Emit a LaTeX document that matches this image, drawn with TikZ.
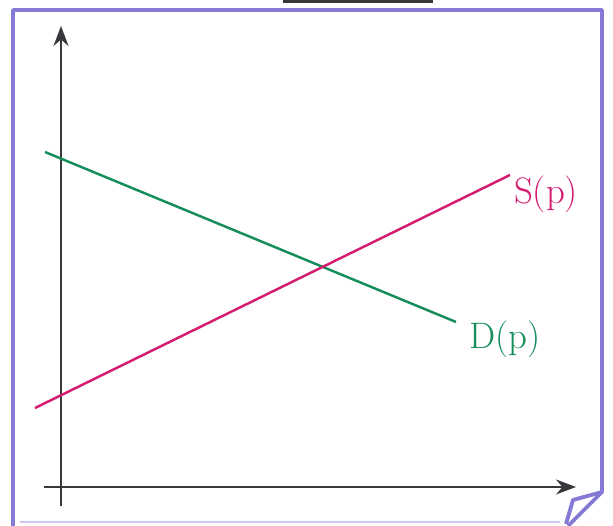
\documentclass[tikz,border=0pt]{standalone}
\usepackage{tikz}
\usetikzlibrary{positioning,arrows.meta,calc}
\definecolor{framelav}{RGB}{132,122,214}
\definecolor{supplymag}{RGB}{212,28,112}
\definecolor{demandgrn}{RGB}{22,142,92}
\definecolor{axisgray}{RGB}{55,55,60}

\begin{document}
\begin{tikzpicture}[
    x=0.02cm, y=-0.02cm,
    sheet/.style={draw=framelav, line width=2.2pt, line join=round},
    ax/.style={draw=axisgray, line width=1.1pt, -{Stealth[length=4mm, width=3mm]}},
    curve/.style={line width=1.4pt},
    lbl/.style={font=\fontsize{21}{24}\selectfont, inner sep=1pt}
]
\useasboundingbox (0,0) rectangle (613,526);
\fill[white] (0,0) rectangle (613,526);
% tab at the top
\fill[axisgray] (283,0) rectangle (433,3);
% paper with folded corner
\draw[sheet] (13,526) -- (13,10) -- (602,10) -- (602,492) -- (568,526);
\draw[sheet] (602,492) -- (573,500) -- (566,524);
\draw[framelav!40, line width=0.6pt] (20,522) -- (560,522);
% axes
\coordinate (o) at (61,487);
\coordinate (ybot) at (61,506);
\coordinate (ytop) at (61,26);
\coordinate (xleft) at (44,487);
\coordinate (xright) at (576,487);
\draw[ax] (ybot) -- (ytop);
\draw[ax] (xleft) -- (xright);
% demand and supply
\coordinate (d0) at (45,152);
\coordinate (d1) at (456,322);
\coordinate (s0) at (35,408);
\coordinate (s1) at (510,175);
\draw[curve, demandgrn] (d0) -- (d1);
\draw[curve, supplymag] (s0) -- (s1);
\node[lbl, text=supplymag, anchor=west] (slbl) at (512,194) {S(p)};
\node[lbl, text=demandgrn, anchor=west] (dlbl) at (467,339) {D(p)};
\end{tikzpicture}
\end{document}
